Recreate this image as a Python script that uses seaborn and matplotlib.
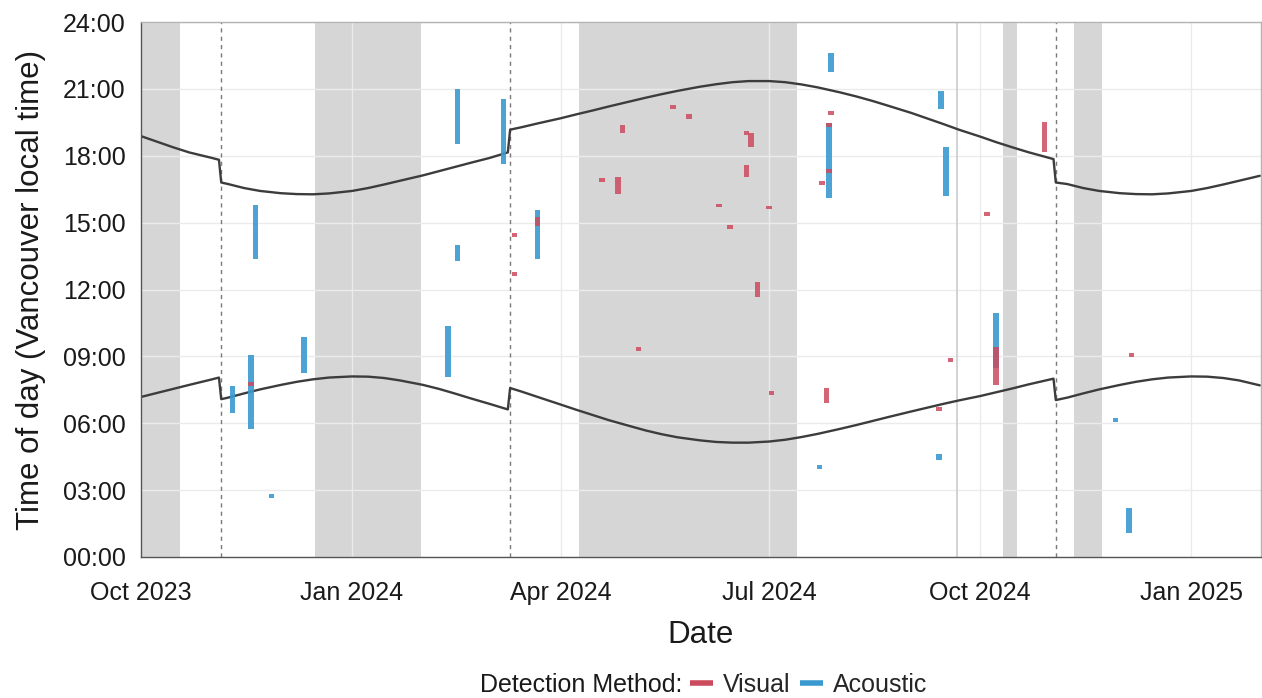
import matplotlib
matplotlib.use("Agg")
import matplotlib.pyplot as plt
import matplotlib.dates as mdates
from matplotlib.lines import Line2D
import seaborn as sns
import pandas as pd

# sunset / sunrise curves (Vancouver local time, hours)
sun_dates = ["2023-10-01", "2023-10-08", "2023-10-15", "2023-10-22", "2023-11-01",
             "2023-11-04", "2023-11-05", "2023-11-08", "2023-11-15", "2023-11-22",
             "2023-12-01", "2023-12-08", "2023-12-15", "2023-12-22", "2024-01-01",
             "2024-01-08", "2024-01-15", "2024-01-22", "2024-02-01", "2024-02-08",
             "2024-02-15", "2024-02-22", "2024-03-01", "2024-03-09", "2024-03-10",
             "2024-03-15", "2024-03-22", "2024-04-01", "2024-04-08", "2024-04-15",
             "2024-04-22", "2024-05-01", "2024-05-08", "2024-05-15", "2024-05-22",
             "2024-06-01", "2024-06-08", "2024-06-15", "2024-06-22", "2024-07-01",
             "2024-07-08", "2024-07-15", "2024-07-22", "2024-08-01", "2024-08-08",
             "2024-08-15", "2024-08-22", "2024-09-01", "2024-09-08", "2024-09-15",
             "2024-09-22", "2024-10-01", "2024-10-08", "2024-10-15", "2024-10-22",
             "2024-11-02", "2024-11-03", "2024-11-08", "2024-11-15", "2024-11-22",
             "2024-12-01", "2024-12-08", "2024-12-15", "2024-12-22", "2025-01-01",
             "2025-01-08", "2025-01-15", "2025-01-22", "2025-01-31"]
sunset = [18.88, 18.63, 18.38, 18.15, 17.90,
          17.82, 16.80, 16.73, 16.55, 16.42,
          16.32, 16.28, 16.27, 16.31, 16.42,
          16.55, 16.71, 16.88, 17.12, 17.31,
          17.50, 17.69, 17.90, 18.15, 19.17,
          19.28, 19.45, 19.68, 19.86, 20.03,
          20.21, 20.43, 20.60, 20.76, 20.91,
          21.10, 21.21, 21.30, 21.35, 21.35,
          21.30, 21.20, 21.07, 20.84, 20.66,
          20.46, 20.24, 19.92, 19.67, 19.42,
          19.16, 18.86, 18.61, 18.38, 18.16,
          17.85, 16.80, 16.73, 16.55, 16.42,
          16.32, 16.28, 16.27, 16.31, 16.42,
          16.55, 16.71, 16.88, 17.10]
sunrise = [7.18, 7.36, 7.54, 7.72, 7.97,
           8.05, 7.08, 7.15, 7.34, 7.52,
           7.72, 7.86, 7.97, 8.05, 8.10,
           8.09, 8.03, 7.92, 7.72, 7.54,
           7.33, 7.11, 6.87, 6.62, 7.58,
           7.42, 7.18, 6.84, 6.60, 6.37,
           6.14, 5.88, 5.68, 5.51, 5.37,
           5.23, 5.16, 5.13, 5.13, 5.18,
           5.26, 5.38, 5.52, 5.75, 5.92,
           6.10, 6.28, 6.53, 6.70, 6.87,
           7.03, 7.22, 7.39, 7.56, 7.74,
           8.00, 7.04, 7.15, 7.34, 7.52,
           7.72, 7.86, 7.97, 8.05, 8.10,
           8.09, 8.03, 7.92, 7.70]

# detections: date, start hour, end hour
visual_dates = ["2023-11-18", "2024-03-12", "2024-03-12", "2024-03-22", "2024-04-19",
                "2024-04-26", "2024-04-28", "2024-05-05", "2024-05-20", "2024-05-27",
                "2024-06-09", "2024-06-14", "2024-06-21", "2024-06-21", "2024-06-23",
                "2024-06-26", "2024-07-01", "2024-07-02", "2024-07-24", "2024-07-26",
                "2024-07-27", "2024-07-27", "2024-07-28", "2024-09-13", "2024-09-18",
                "2024-10-04", "2024-10-08", "2024-10-29", "2024-12-06"]
visual_start = [7.68, 14.37, 12.62, 14.85, 16.83,
                16.27, 19.04, 9.25, 20.11, 19.65,
                15.68, 14.71, 17.06, 18.93, 18.40,
                11.68, 15.59, 7.26, 16.71, 6.92,
                19.30, 17.22, 19.85, 6.57, 8.74,
                15.31, 7.72, 18.18, 8.97]
visual_end = [7.85, 14.54, 12.79, 15.27, 17.00,
              17.06, 19.38, 9.42, 20.28, 19.86,
              15.85, 14.88, 17.59, 19.10, 19.02,
              12.35, 15.76, 7.43, 16.88, 7.57,
              19.47, 17.39, 20.02, 6.74, 8.91,
              15.48, 9.43, 19.53, 9.14]

acoustic_dates = ["2023-11-10", "2023-11-18", "2023-11-20", "2023-11-27", "2023-12-11",
                  "2024-02-12", "2024-02-16", "2024-02-16", "2024-03-07", "2024-03-22",
                  "2024-07-23", "2024-07-27", "2024-07-28", "2024-09-13", "2024-09-14",
                  "2024-09-16", "2024-10-08", "2024-11-29", "2024-12-05"]
acoustic_start = [6.45, 5.74, 13.36, 2.66, 8.24,
                  8.09, 18.53, 13.29, 17.63, 13.36,
                  3.97, 16.09, 21.77, 4.35, 20.08,
                  16.20, 8.46, 6.05, 1.06]
acoustic_end = [7.67, 9.06, 15.79, 2.83, 9.86,
                10.38, 20.98, 14.00, 20.53, 15.57,
                4.14, 19.45, 22.60, 4.62, 20.92,
                18.41, 10.93, 6.22, 2.18]

# periods shaded grey
shade_start = ["2023-09-30", "2023-12-16", "2024-04-09", "2024-10-11", "2024-11-11"]
shade_end = ["2023-10-18", "2024-01-31", "2024-07-13", "2024-10-17", "2024-11-23"]
dst_dates = ["2023-11-05", "2024-03-10", "2024-11-03"]
marker_date = "2024-09-21"

red = "#CC4A5E"
blue = "#3A9AD0"

sns.set_theme(style="white")
plt.rcParams["font.family"] = ["Liberation Sans", "DejaVu Sans"]

fig = plt.figure(figsize=(12.62, 6.98), dpi=100)
ax = fig.add_axes([141 / 1262, 1 - 557 / 698, (1261 - 141) / 1262, (557 - 22) / 698])

for s, e in zip(shade_start, shade_end):
    ax.axvspan(pd.Timestamp(s), pd.Timestamp(e), color="#D6D6D6", lw=0, zorder=0.2)

ax.set_axisbelow(True)
ax.grid(True, color="#EBEBEB", lw=1.0)

for d in dst_dates:
    ax.axvline(pd.Timestamp(d), color="#7A7A7A", lw=1.0, ls=(0, (3, 3)), zorder=1)
ax.axvline(pd.Timestamp(marker_date), color="#CCCCCC", lw=1.2, zorder=0.6)

sun = pd.DataFrame({"date": pd.to_datetime(sun_dates), "sunset": sunset, "sunrise": sunrise})
for col in ["sunset", "sunrise"]:
    sns.lineplot(data=sun, x="date", y=col, estimator=None, sort=False,
                 color="#3C3C3C", lw=1.7, ax=ax, zorder=2)

ac = pd.DataFrame({"date": pd.to_datetime(acoustic_dates), "start": acoustic_start, "end": acoustic_end})
vi = pd.DataFrame({"date": pd.to_datetime(visual_dates), "start": visual_start, "end": visual_end})
ax.bar(ac["date"], ac["end"] - ac["start"], bottom=ac["start"], width=2.4,
       color=blue, alpha=0.9, lw=0, zorder=3)
ax.bar(vi["date"], vi["end"] - vi["start"], bottom=vi["start"], width=2.4,
       color=red, alpha=0.85, lw=0, zorder=3)

ax.set_xlim(pd.Timestamp("2023-10-01"), pd.Timestamp("2025-01-31 12:00"))
ax.set_ylim(0, 24)
ax.set_yticks(range(0, 25, 3))
ax.set_yticklabels([f"{h:02d}:00" for h in range(0, 25, 3)])
ax.xaxis.set_major_locator(mdates.MonthLocator(bymonth=[1, 4, 7, 10]))
ax.xaxis.set_major_formatter(mdates.DateFormatter("%b %Y"))

for sp in ax.spines.values():
    sp.set_color("#B3B3B3")
    sp.set_linewidth(1.0)
ax.spines["left"].set_color("#555555")
ax.spines["bottom"].set_color("#555555")
ax.tick_params(axis="both", which="major", length=4, width=1, color="#555555",
               labelsize=18, labelcolor="#1A1A1A")
ax.tick_params(axis="x", pad=13)
ax.tick_params(axis="y", pad=7)

ax.set_xlabel("Date", fontsize=22.5, color="#1A1A1A", labelpad=11)
ax.set_ylabel("Time of day (Vancouver local time)", fontsize=22.5, color="#1A1A1A", labelpad=12)

fig.text(480 / 1262, 1 - 685 / 698, "Detection Method:", fontsize=18,
         color="#1A1A1A", ha="left", va="center")
handles = [Line2D([], [], color=red, lw=4, solid_capstyle="butt"),
           Line2D([], [], color=blue, lw=4, solid_capstyle="butt")]
fig.legend(handles, ["Visual", "Acoustic"], loc="center left",
           bbox_to_anchor=(690 / 1262, 1 - 685 / 698), ncol=2, frameon=False,
           fontsize=18, handlelength=0.9, handletextpad=0.4, columnspacing=0.4,
           borderpad=0, borderaxespad=0)

fig.savefig("out.png", dpi=100)
plt.close(fig)
